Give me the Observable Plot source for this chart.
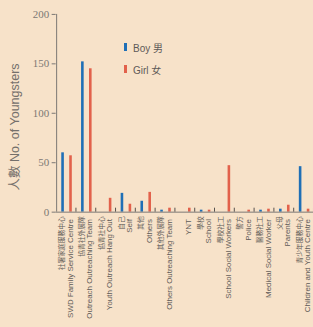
<!DOCTYPE html>
<html><head><meta charset="utf-8">
<script src="https://cdn.jsdelivr.net/npm/d3@7"></script>
<script src="https://cdn.jsdelivr.net/npm/@observablehq/plot@0.6"></script>
<style>
html,body{margin:0;padding:0;background:#f7e2c9;overflow:hidden;width:313px;height:327px;}
#wrap{position:relative;width:313px;height:327px;overflow:hidden;}
#wrap svg{position:absolute;left:0;top:0;}
#ytitle{position:absolute;left:13px;top:127px;transform:translate(-50%,-50%) rotate(-90deg);white-space:nowrap;font-family:"Liberation Sans","Noto Sans CJK TC",sans-serif;font-size:12.5px;color:#75706b;}
#legend{position:absolute;left:124px;top:42px;font-family:"Liberation Sans","Noto Sans CJK TC",sans-serif;font-size:10px;color:#5e5a58;}
#legend .row{display:flex;align-items:center;height:10px;margin-bottom:12px;}
#legend .sw{display:inline-block;width:3px;height:8px;margin-right:6px;}
</style></head>
<body><div id="wrap"></div>
<script>
const categories = ["SWD Family Service Centre","Outreach Outreaching Team","Youth Outreach Hang Out","Self","Others","Others Outreaching Team","YNT","School","School Social Workers","Police","Medical Social Worker","Parents","Children and Youth Centre"];
const labelsZh = ["社署家庭服務中心","協青社外展隊","協青社中心","自己","其他","其他外展隊","","學校","學校社工","警方","醫務社工","父母","青少年服務中心"];
const boy  = [60,152,0,19,11,2,0,2,0,0,2,3,46];
const girl = [57,145,14,8,20,4,4,2,47,2,3,7,3];
const seriesNames = ["Boy 男","Girl 女"];
const seriesColors = ["#1f6fb6","#e2614b"];
const yTicks = [0,50,100,150,200];
const yTitle = "人數 No. of Youngsters";

const seriesValues = [boy, girl];
const rows = categories.flatMap((c,i)=>seriesNames.map((s,k)=>({cat:c, series:s, value:seriesValues[k][i]})));

const W = 315, ML = 56, MR = 0;
const step = (W - ML - MR) / categories.length;
const barW = 2.6;
const inset = (step - barW) / 2;
const axisColor = "#7c7874";
const labelColor = "#5f5b58";
const zhOf = d => labelsZh[categories.indexOf(d)];

const chart = Plot.plot({
  width: W, height: 327,
  marginLeft: ML, marginRight: MR, marginTop: 14, marginBottom: 114,
  style: {background: "transparent", overflow: "visible"},
  x: {domain: categories, padding: 0, round: false, axis: null},
  y: {domain: [0, 200], axis: null},
  color: {domain: seriesNames, range: seriesColors},
  marks: [
    ...seriesNames.map((s,k)=>Plot.barY(rows.filter(d=>d.series===s), {
      x: "cat", y: "value", fill: "series",
      insetLeft: inset, insetRight: inset, dx: (k - 0.5) * 8 + 1
    })),
    Plot.ruleY([0], {stroke: axisColor, strokeWidth: 1}),
    Plot.ruleX([categories[0]], {y1: 0, y2: 200, dx: -step/2 + 0.5, stroke: axisColor}),
    Plot.ruleX(categories, {y1: 0, y2: 4, dx: step/2, stroke: "#55514e"}),
    Plot.axisY({ticks: yTicks, tickSize: 4, tickPadding: 3, label: null,
      fontFamily: "Liberation Serif, DejaVu Serif, serif", fontSize: 11, color: axisColor}),
    Plot.text(categories, {x: d => d, frameAnchor: "bottom", text: zhOf,
      rotate: -90, textAnchor: "end", lineAnchor: "middle", dx: -4, dy: 4,
      fontSize: 6.8, fontFamily: "Noto Sans CJK TC, sans-serif", fill: labelColor}),
    Plot.text(categories, {x: d => d, frameAnchor: "bottom", text: d => d,
      rotate: -90, textAnchor: "end", lineAnchor: "middle", dx: 4, dy: 7,
      fontSize: 8, fontFamily: "Liberation Sans, Arial, sans-serif", fill: labelColor})
  ]
});

const wrap = document.getElementById("wrap");
wrap.appendChild(chart);

const t = document.createElement("div");
t.id = "ytitle"; t.textContent = yTitle;
wrap.appendChild(t);

const lg = document.createElement("div");
lg.id = "legend";
seriesNames.forEach((s,k)=>{
  const r = document.createElement("div"); r.className = "row";
  const sw = document.createElement("span"); sw.className = "sw"; sw.style.background = seriesColors[k];
  const tx = document.createElement("span"); tx.textContent = s;
  r.appendChild(sw); r.appendChild(tx); lg.appendChild(r);
});
wrap.appendChild(lg);
</script>
</body></html>
